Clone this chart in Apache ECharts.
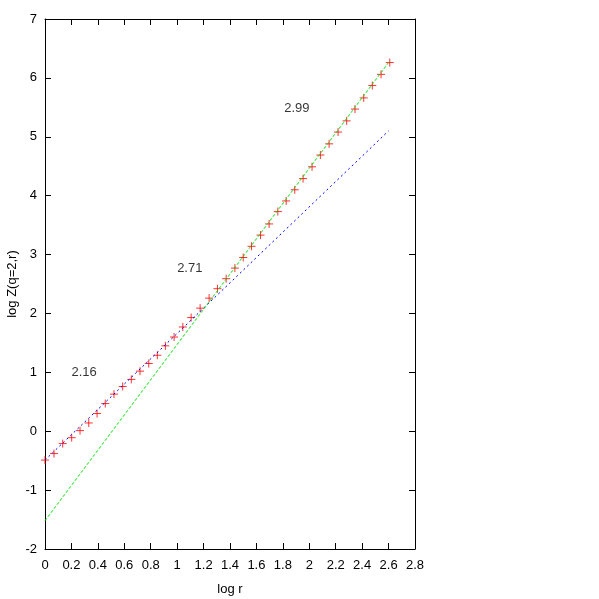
<!DOCTYPE html>
<html>
<head>
<meta charset="utf-8">
<script src="https://cdn.jsdelivr.net/npm/echarts@6/dist/echarts.min.js"></script>
<style>
  html, body { margin: 0; padding: 0; background: #fff; }
  #chart { width: 599px; height: 599px; }
</style>
</head>
<body>
<div id="chart"></div>
<script>
// measured points: log r vs log Z(q=2,r)
const logR = [0, 0.068, 0.134, 0.202, 0.265, 0.331, 0.394, 0.456, 0.522, 0.588,
    0.653, 0.719, 0.785, 0.850, 0.911, 0.977, 1.043, 1.106, 1.174, 1.242,
    1.305, 1.371, 1.437, 1.500, 1.563, 1.631, 1.696, 1.762, 1.825, 1.890,
    1.953, 2.021, 2.084, 2.150, 2.218, 2.283, 2.346, 2.412, 2.477, 2.543, 2.609];
const logZ = [-0.49, -0.38, -0.21, -0.11, 0.01, 0.14, 0.30, 0.47, 0.63, 0.76,
    0.88, 1.02, 1.15, 1.29, 1.45, 1.60, 1.77, 1.93, 2.09, 2.26,
    2.42, 2.59, 2.77, 2.95, 3.14, 3.33, 3.52, 3.73, 3.91, 4.10,
    4.29, 4.49, 4.69, 4.88, 5.08, 5.27, 5.47, 5.66, 5.87, 6.06, 6.26];

// fitted lines (end points)
const fitX = [0, 2.6];
const fitSmall = [-0.49, 5.10];   // slope 2.16
const fitLarge = [-1.52, 6.26];   // slope 2.99

// slope annotations
const slopeText = ['2.16', '2.71', '2.99'];
const slopeX = [0.20, 1.00, 1.81];
const slopeY = [1.00, 2.77, 5.49];

const font = "'Liberation Sans Narrow', 'Liberation Sans', sans-serif";

const chart = echarts.init(document.getElementById('chart'));

const tickStyle = { show: true, inside: true, length: 6, lineStyle: { color: '#000' } };
const lineStyle = { show: true, onZero: false, lineStyle: { color: '#000', width: 1 } };

const option = {
    animation: false,
    grid: { left: 45, right: 184, top: 19, bottom: 50, outerBoundsMode: 'none', containLabel: false },
    xAxis: [
        {
            type: 'value', min: 0, max: 2.8, interval: 0.2,
            name: 'log r', nameLocation: 'middle', nameGap: 34, nameMoveOverlap: false,
            nameTextStyle: { fontFamily: font, fontSize: 13, color: '#000' },
            axisLine: lineStyle, axisTick: tickStyle, splitLine: { show: false },
            axisLabel: {
                fontFamily: font, fontSize: 13, color: '#000', margin: 10,
                formatter: v => String(+v.toFixed(1))
            }
        },
        {
            type: 'value', min: 0, max: 2.8, interval: 0.2, position: 'top',
            axisLine: lineStyle, axisTick: tickStyle, axisLabel: { show: false },
            splitLine: { show: false }
        }
    ],
    yAxis: [
        {
            type: 'value', min: -2, max: 7, interval: 1,
            name: 'log Z(q=2,r)', nameLocation: 'middle', nameGap: 26, nameMoveOverlap: false,
            nameTextStyle: { fontFamily: font, fontSize: 13, color: '#000' },
            axisLine: lineStyle, axisTick: tickStyle, splitLine: { show: false },
            axisLabel: { fontFamily: font, fontSize: 13, color: '#000', margin: 8 }
        },
        {
            type: 'value', min: -2, max: 7, interval: 1, position: 'right',
            axisLine: lineStyle, axisTick: tickStyle, axisLabel: { show: false },
            splitLine: { show: false }
        }
    ],
    series: [
        {
            type: 'scatter',
            data: logR.map((x, i) => [x, logZ[i]]),
            symbol: 'path://M0 5H10M5 0V10',
            symbolSize: 8,
            itemStyle: { color: 'transparent', borderColor: '#ff0000', borderWidth: 1 },
            z: 2
        },
        {
            type: 'line',
            data: fitX.map((x, i) => [x, fitSmall[i]]),
            showSymbol: false,
            lineStyle: { color: '#0000ff', width: 1, type: [2, 3] },
            z: 3
        },
        {
            type: 'line',
            data: fitX.map((x, i) => [x, fitLarge[i]]),
            showSymbol: false,
            lineStyle: { color: '#00dd00', width: 1, type: [3, 2] },
            z: 3
        },
        {
            type: 'scatter',
            data: slopeX.map((x, i) => ({ value: [x, slopeY[i]], name: slopeText[i] })),
            symbolSize: 0,
            label: {
                show: true, position: 'right', distance: 0,
                formatter: p => p.name,
                fontFamily: font, fontSize: 13, color: '#000'
            }
        }
    ]
};

chart.setOption(option);
</script>
</body>
</html>
